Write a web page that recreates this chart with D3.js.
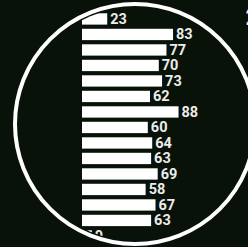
<!DOCTYPE html>
<html>
<head>
<meta charset="utf-8">
<script src="https://cdn.jsdelivr.net/npm/d3@7"></script>
<style>
  html, body { margin: 0; padding: 0; background: #081208; overflow: hidden; }
  svg { display: block; }
</style>
</head>
<body>
<svg id="chart"></svg>
<script>
const values = [23, 83, 77, 70, 73, 62, 88, 60, 64, 63, 69, 58, 67, 63, 9];
const categories = values.map((d, i) => 'r' + i);

const width = 248, height = 247;
const cx = 135, cy = 124, ringR = 120;

const svg = d3.select('#chart')
  .attr('width', width)
  .attr('height', height);

svg.append('defs').append('clipPath').attr('id', 'disc')
  .append('circle').attr('cx', cx).attr('cy', cy).attr('r', ringR - 3.5);

const x = d3.scaleLinear().domain([0, 100]).range([82, 191.7]);
const y = d3.scaleBand().domain(categories)
  .range([11.2, 11.2 + 15 * 15.5])
  .paddingInner(0.27)
  .paddingOuter(0.135);

const g = svg.append('g').attr('clip-path', 'url(#disc)');

g.selectAll('rect.bar')
  .data(values)
  .enter().append('rect')
  .attr('class', 'bar')
  .attr('x', x(0))
  .attr('y', (d, i) => y(categories[i]))
  .attr('width', d => x(d) - x(0))
  .attr('height', y.bandwidth())
  .attr('fill', '#ffffff');

g.selectAll('text.lbl')
  .data(values)
  .enter().append('text')
  .attr('class', 'lbl')
  .attr('x', d => x(d) + 3)
  .attr('y', (d, i) => y(categories[i]) + y.bandwidth() / 2 + 0.5)
  .attr('dominant-baseline', 'central')
  .attr('font-family', 'Roboto, sans-serif')
  .attr('font-weight', 700)
  .attr('font-size', 14.5)
  .attr('fill', '#ececec')
  .text(d => d);

// ring drawn over the clipped bars
svg.append('circle')
  .attr('cx', cx).attr('cy', cy).attr('r', ringR)
  .attr('fill', 'none')
  .attr('stroke', '#ffffff')
  .attr('stroke-width', 4);

// cut-off text at the right edge
svg.append('text')
  .attr('x', 245.5)
  .attr('y', 25)
  .attr('font-family', 'Roboto, sans-serif')
  .attr('font-weight', 700)
  .attr('font-size', 24)
  .attr('fill', '#ececec')
  .text('2');
</script>
</body>
</html>
